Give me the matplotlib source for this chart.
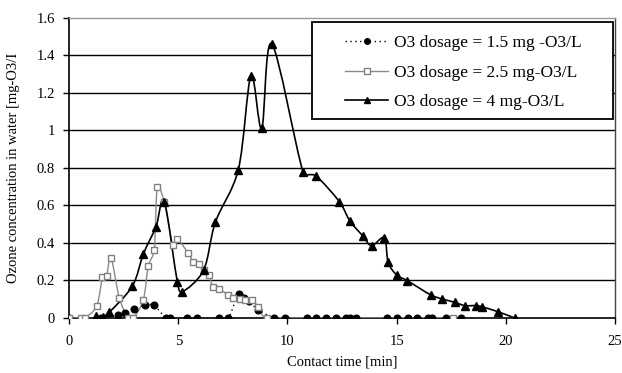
import numpy as np
import matplotlib
matplotlib.use('Agg')
import matplotlib.pyplot as plt
from matplotlib.path import Path
from matplotlib.patches import PathPatch, Rectangle
from matplotlib.lines import Line2D

plt.rcParams['font.family'] = ['Liberation Serif', 'DejaVu Serif']

# ---- data ----
t_15 = [0, 1.45, 2.26, 2.56, 2.97, 3.48, 3.87, 4.44, 4.6, 5.39, 5.85, 6.85, 7.29,
        7.76, 8.03, 8.25, 8.66, 9.4, 9.89, 10.88, 11.32, 11.78, 12.2, 12.7, 12.85,
        13.15, 14.54, 15.03, 15.52, 15.93, 16.44, 16.62, 17.27, 17.94]
c_15 = [0, 0, 0.016, 0.028, 0.047, 0.067, 0.067, 0, 0, 0, 0, 0, 0,
        0.13, 0.108, 0.09, 0.043, 0, 0, 0, 0, 0, 0, 0, 0,
        0, 0, 0, 0, 0, 0, 0, 0, 0]

t_25 = [0, 0.55, 0.75, 1.27, 1.53, 1.72, 1.92, 2.3, 2.7, 2.95, 3.4, 3.63, 3.9,
        4.04, 4.35, 4.75, 4.96, 5.46, 5.69, 5.96, 6.19, 6.41, 6.58, 6.88, 7.29,
        7.52, 7.83, 8.05, 8.36, 8.66, 9.05, 17.56]
c_25 = [0, 0, 0, 0.065, 0.216, 0.225, 0.32, 0.108, 0, 0, 0.096, 0.277, 0.36,
        0.698, 0.62, 0.39, 0.42, 0.344, 0.3, 0.285, 0.255, 0.229, 0.167, 0.154, 0.122,
        0.105, 0.1, 0.096, 0.096, 0.06, 0, 0]

t_4 = [1.25, 1.55, 1.84, 2.9, 3.4, 3.98, 4.36, 4.96, 5.19, 6.16, 6.7, 7.75, 8.33,
       8.82, 9.28, 10.72, 11.3, 12.37, 12.86, 13.44, 13.85, 14.43, 14.61, 15.0,
       15.48, 16.57, 17.09, 17.67, 18.12, 18.63, 18.89, 19.62, 20.4]
c_4 = [0.01, 0.005, 0.03, 0.17, 0.34, 0.486, 0.62, 0.19, 0.14, 0.255, 0.51, 0.79, 1.29,
       1.01, 1.46, 0.775, 0.757, 0.62, 0.516, 0.438, 0.385, 0.427, 0.296, 0.229,
       0.199, 0.122, 0.101, 0.083, 0.066, 0.066, 0.06, 0.034, 0.0]

labels = ['O3 dosage = 1.5 mg -O3/L', 'O3 dosage = 2.5 mg-O3/L', 'O3 dosage = 4 mg-O3/L']


def smooth_path(x, y, sx=21.85, sy=188.0):
    # spreadsheet style smoothed line, bezier through every point,
    # control arms clamped so short segments don't loop
    p = np.column_stack([x, y]).astype(float)
    s = np.array([sx, sy])
    verts = [p[0]]
    codes = [Path.MOVETO]
    n = len(p)

    def tangent(i):
        a = p[i - 1] if i > 0 else p[i]
        b = p[i + 1] if i + 1 < n else p[i]
        return (b - a) / 6.0

    for i in range(n - 1):
        seg = np.linalg.norm((p[i + 1] - p[i]) * s)
        t1, t2 = tangent(i), tangent(i + 1)
        for t in (t1, t2):
            ln = np.linalg.norm(t * s)
            if ln > 0.4 * seg and ln > 0:
                t *= 0.4 * seg / ln
        c1 = p[i] + t1
        c2 = p[i + 1] - t2
        c1[1] = max(c1[1], 0)
        c2[1] = max(c2[1], 0)
        verts += [c1, c2, p[i + 1]]
        codes += [Path.CURVE4] * 3
    return Path(verts, codes)


fig = plt.figure(figsize=(6.22, 3.73), dpi=100)
ax = fig.add_axes([0.111, 0.1475, 0.878, 0.8055])

# grid
for g in np.arange(0.2, 1.41, 0.2):
    ax.axhline(g, color='black', lw=1.0, zorder=1)

ax.add_patch(PathPatch(smooth_path(t_15, c_15), fill=False, ec='black', lw=1.0,
                       ls=(0, (1, 2.5)), zorder=3))
ax.add_patch(PathPatch(smooth_path(t_25, c_25), fill=False, ec='#8a8a8a', lw=1.0, zorder=3))
ax.add_patch(PathPatch(smooth_path(t_4, c_4), fill=False, ec='black', lw=1.2, zorder=4))

ax.plot(t_15, c_15, ls='none', marker='o', ms=4.8, color='black', zorder=5)
ax.plot(t_25, c_25, ls='none', marker='s', ms=4.3, mfc='white', mec='#808080', mew=1.0, zorder=5)
ax.plot(t_4, c_4, ls='none', marker='^', ms=5.8, color='black', zorder=6)

ax.set_xlim(0, 25)
ax.set_ylim(0, 1.6)
ax.set_xticks([0, 5, 10, 15, 20, 25])
ax.set_yticks([0, 0.2, 0.4, 0.6, 0.8, 1, 1.2, 1.4, 1.6])
ax.set_yticklabels(['0', '0.2', '0.4', '0.6', '0.8', '1', '1.2', '1.4', '1.6'])
ax.tick_params(axis='both', direction='out', length=4, width=1, labelsize=10.5, colors='black')
ax.tick_params(axis='y', pad=6)
ax.tick_params(axis='x', pad=8)

ax.spines['left'].set_linewidth(1.2)
ax.spines['bottom'].set_linewidth(1.2)
ax.spines['top'].set_color('#999999')
ax.spines['top'].set_linewidth(1.0)
ax.spines['right'].set_color('#444444')
ax.spines['right'].set_linewidth(1.0)

ax.set_xlabel('Contact time [min]', fontsize=10.5, labelpad=6)
ax.set_ylabel('Ozone concentration in water [mg-O3/I', fontsize=10.5, labelpad=12)

# legend box drawn on its own, entries placed inside it
box = Rectangle((0.445, 0.662), 0.551, 0.323, transform=ax.transAxes, fill=True,
                fc='white', ec='black', lw=1.3, zorder=9)
ax.add_patch(box)
handles = [
    Line2D([], [], color='black', ls=(0, (1, 2.5)), lw=1.0, marker='o', ms=4),
    Line2D([], [], color='#8a8a8a', lw=1.0, marker='s', ms=4, mfc='white', mec='#808080'),
    Line2D([], [], color='black', lw=1.2, marker='^', ms=5),
]
leg = ax.legend(handles, labels, loc='upper left', bbox_to_anchor=(0.505, 0.942),
                fontsize=12.5, frameon=False, handlelength=2.5, handletextpad=0.35,
                labelspacing=0.77, borderpad=0, borderaxespad=0)
leg.set_zorder(10)

fig.savefig('out.png', dpi=100)
